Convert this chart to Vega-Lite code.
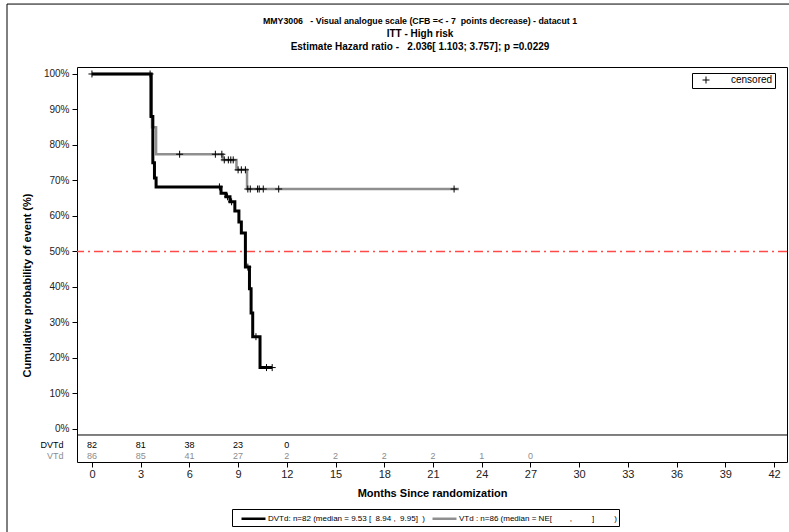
{
  "$schema": "https://vega.github.io/schema/vega-lite/v6.json",
  "width": 710,
  "height": 395,
  "autosize": {"type": "none"},
  "padding": {"left": 77, "top": 67, "right": 2, "bottom": 70},
  "background": "white",
  "config": {
    "font": "Liberation Sans",
    "view": {"stroke": "black", "strokeWidth": 1},
    "axis": {"labelColor": "#222", "tickColor": "black", "titleColor": "black", "grid": false, "domain": false}
  },
  "title": {
    "text": "MMY3006\u00a0\u00a0 - Visual analogue scale (CFB =< - 7\u00a0 points decrease) - datacut 1",
    "subtitle": ["ITT - High risk", "Estimate Hazard ratio -\u00a0\u00a0 2.036[ 1.103; 3.757]; p =0.0229"],
    "font": "Liberation Sans",
    "fontSize": 8.8,
    "fontWeight": "bold",
    "color": "black",
    "subtitleFont": "Liberation Sans",
    "subtitleFontSize": 10,
    "subtitleFontWeight": "bold",
    "subtitleColor": "black",
    "subtitlePadding": 3,
    "subtitleLineHeight": 13,
    "anchor": "middle",
    "frame": "group",
    "dx": -12,
    "offset": -48
  },
  "datasets": {
    "curves": [
      {"grp": "VTd", "t": 0, "p": 100},
      {"grp": "VTd", "t": 3.6, "p": 88},
      {"grp": "VTd", "t": 3.7, "p": 85},
      {"grp": "VTd", "t": 3.95, "p": 77.4},
      {"grp": "VTd", "t": 8.05, "p": 75.8},
      {"grp": "VTd", "t": 8.9, "p": 73.0},
      {"grp": "VTd", "t": 9.55, "p": 67.6},
      {"grp": "VTd", "t": 22.6, "p": 67.6},
      {"grp": "DVTd", "t": 0, "p": 100},
      {"grp": "DVTd", "t": 3.65, "p": 88},
      {"grp": "DVTd", "t": 3.75, "p": 75},
      {"grp": "DVTd", "t": 3.85, "p": 70.7},
      {"grp": "DVTd", "t": 3.95, "p": 68.2},
      {"grp": "DVTd", "t": 7.95, "p": 66.4},
      {"grp": "DVTd", "t": 8.25, "p": 65.4},
      {"grp": "DVTd", "t": 8.5, "p": 64.0},
      {"grp": "DVTd", "t": 8.8, "p": 61.4},
      {"grp": "DVTd", "t": 9.05, "p": 58.3},
      {"grp": "DVTd", "t": 9.2, "p": 55.2},
      {"grp": "DVTd", "t": 9.45, "p": 45.6},
      {"grp": "DVTd", "t": 9.7, "p": 39.5},
      {"grp": "DVTd", "t": 9.8, "p": 32.7},
      {"grp": "DVTd", "t": 9.9, "p": 26.0},
      {"grp": "DVTd", "t": 10.35, "p": 17.3},
      {"grp": "DVTd", "t": 11.1, "p": 17.3}
    ],
    "cens": [
      {"t": 0, "p": 100}, {"t": 3.58, "p": 100},
      {"t": 5.4, "p": 77.4}, {"t": 7.6, "p": 77.4}, {"t": 8.0, "p": 77.4},
      {"t": 8.15, "p": 75.8}, {"t": 8.4, "p": 75.8}, {"t": 8.55, "p": 75.8}, {"t": 8.7, "p": 75.8},
      {"t": 9.0, "p": 73.0}, {"t": 9.2, "p": 73.0}, {"t": 9.45, "p": 73.0},
      {"t": 9.6, "p": 67.6}, {"t": 9.75, "p": 67.6}, {"t": 10.2, "p": 67.6}, {"t": 10.3, "p": 67.6},
      {"t": 10.55, "p": 67.6}, {"t": 11.5, "p": 67.6}, {"t": 22.3, "p": 67.6},
      {"t": 7.85, "p": 68.2}, {"t": 8.35, "p": 65.4}, {"t": 8.6, "p": 64.0},
      {"t": 9.6, "p": 45.6}, {"t": 10.1, "p": 26.0}, {"t": 10.75, "p": 17.3}, {"t": 11.1, "p": 17.3}
    ],
    "risk": [
      {"grp": "DVTd", "t": 0, "n": 82}, {"grp": "DVTd", "t": 3, "n": 81}, {"grp": "DVTd", "t": 6, "n": 38},
      {"grp": "DVTd", "t": 9, "n": 23}, {"grp": "DVTd", "t": 12, "n": 0},
      {"grp": "VTd", "t": 0, "n": 86}, {"grp": "VTd", "t": 3, "n": 85}, {"grp": "VTd", "t": 6, "n": 41},
      {"grp": "VTd", "t": 9, "n": 27}, {"grp": "VTd", "t": 12, "n": 2}, {"grp": "VTd", "t": 15, "n": 2},
      {"grp": "VTd", "t": 18, "n": 2}, {"grp": "VTd", "t": 21, "n": 2}, {"grp": "VTd", "t": 24, "n": 1},
      {"grp": "VTd", "t": 27, "n": 0}
    ],
    "one": [{}]
  },
  "encoding": {
    "x": {
      "type": "quantitative",
      "scale": {"domain": [-0.92, 42.8], "nice": false, "zero": false},
      "axis": {
        "values": [0, 3, 6, 9, 12, 15, 18, 21, 24, 27, 30, 33, 36, 39, 42],
        "title": "Months Since randomization",
        "titleFontSize": 11,
        "titleFontWeight": "bold",
        "titleY": 31,
        "titleBaseline": "middle",
        "labelFontSize": 11,
        "tickSize": 5,
        "labelPadding": 1
      }
    },
    "y": {
      "type": "quantitative",
      "scale": {"domain": [-9.3, 101.97], "nice": false, "zero": false},
      "axis": {
        "values": [0, 10, 20, 30, 40, 50, 60, 70, 80, 90, 100],
        "labelExpr": "datum.value + '%'",
        "title": "Cumulative probability of event (%)",
        "titleFontSize": 11,
        "titleFontWeight": "bold",
        "titleAngle": 270,
        "titleAlign": "center",
        "titleBaseline": "middle",
        "titleX": -50,
        "titleY": 218,
        "labelFontSize": 10,
        "tickSize": 5,
        "labelPadding": 3
      }
    }
  },
  "layer": [
    {
      "data": {"name": "one"},
      "mark": {"type": "rect", "fill": null, "stroke": "black", "strokeWidth": 1, "clip": false},
      "encoding": {"x": {"datum": -5.23}, "x2": {"datum": 60}, "y": {"datum": 119.7}, "y2": {"datum": -40}}
    },
    {
      "data": {"name": "one"},
      "mark": {"type": "rule", "stroke": "#ff4a4a", "color": "#ff4a4a", "strokeWidth": 1.4, "strokeDash": [9, 4, 2, 4]},
      "encoding": {"y": {"datum": 50}}
    },
    {
      "data": {"name": "one"},
      "mark": {"type": "rule", "stroke": "black", "strokeWidth": 1},
      "encoding": {"y": {"datum": -1.69}}
    },
    {
      "data": {"name": "curves"},
      "transform": [{"filter": "datum.grp == 'VTd'"}],
      "mark": {"type": "line", "interpolate": "step-after", "strokeWidth": 2.5},
      "encoding": {
        "x": {"field": "t"},
        "y": {"field": "p"},
        "color": {
          "field": "grp",
          "type": "nominal",
          "scale": {"domain": ["DVTd", "VTd"], "range": ["black", "#8f8f8f"]},
          "legend": {
            "orient": "none",
            "legendX": 155,
            "legendY": 442,
            "direction": "horizontal",
            "title": null,
            "strokeColor": "black",
            "padding": 2,
            "symbolType": "M-2,0H2",
            "symbolSize": 144,
            "symbolOffset": 12,
            "symbolStrokeWidth": 2.5,
            "labelOffset": 7,
            "labelFontSize": 8,
            "labelColor": "black",
            "labelLimit": 0,
            "columnPadding": 0,
            "labelExpr": "datum.label == 'DVTd' ? 'DVTd: n=82 (median = 9.53 [\u00a0 8.94 ,\u00a0 9.95]\u00a0 )' : 'VTd : n=86 (median = NE[\u00a0\u00a0\u00a0\u00a0\u00a0\u00a0\u00a0 ,\u00a0\u00a0\u00a0\u00a0\u00a0\u00a0\u00a0\u00a0 ]\u00a0\u00a0\u00a0\u00a0\u00a0\u00a0\u00a0\u00a0 )'"
          }
        }
      }
    },
    {
      "data": {"name": "curves"},
      "transform": [{"filter": "datum.grp == 'DVTd'"}],
      "mark": {"type": "line", "interpolate": "step-after", "strokeWidth": 3},
      "encoding": {
        "x": {"field": "t"},
        "y": {"field": "p"},
        "color": {"field": "grp", "type": "nominal"}
      }
    },
    {
      "data": {"name": "cens"},
      "mark": {"type": "point", "filled": false, "stroke": "black", "strokeWidth": 1, "size": 49, "opacity": 1},
      "encoding": {
        "x": {"field": "t"},
        "y": {"field": "p"},
        "shape": {
          "datum": "censored",
          "scale": {"range": ["M-1,0H1M0,-1V1"]},
          "legend": {
            "orient": "none",
            "legendX": 615,
            "legendY": 6,
            "title": null,
            "strokeColor": "black",
            "padding": 2,
            "symbolStrokeColor": "black",
            "symbolFillColor": "transparent",
            "symbolStrokeWidth": 1,
            "symbolSize": 49,
            "symbolOffset": 7,
            "labelOffset": 20,
            "labelFontSize": 10,
            "labelColor": "black"
          }
        }
      }
    },
    {
      "data": {"name": "risk"},
      "transform": [{"filter": "datum.grp == 'DVTd'"}],
      "mark": {"type": "text", "fontSize": 9, "color": "black", "baseline": "middle"},
      "encoding": {"x": {"field": "t"}, "y": {"datum": -4.5}, "text": {"field": "n"}}
    },
    {
      "data": {"name": "risk"},
      "transform": [{"filter": "datum.grp == 'VTd'"}],
      "mark": {"type": "text", "fontSize": 9, "color": "#8c8c8c", "baseline": "middle"},
      "encoding": {"x": {"field": "t"}, "y": {"datum": -7.6}, "text": {"field": "n"}}
    },
    {
      "data": {"name": "one"},
      "mark": {"type": "text", "fontSize": 9, "color": "black", "align": "right", "baseline": "middle"},
      "encoding": {"x": {"datum": -1.75}, "y": {"datum": -4.5}, "text": {"value": "DVTd"}}
    },
    {
      "data": {"name": "one"},
      "mark": {"type": "text", "fontSize": 9, "color": "#8c8c8c", "align": "right", "baseline": "middle"},
      "encoding": {"x": {"datum": -1.75}, "y": {"datum": -7.6}, "text": {"value": "VTd"}}
    }
  ]
}
